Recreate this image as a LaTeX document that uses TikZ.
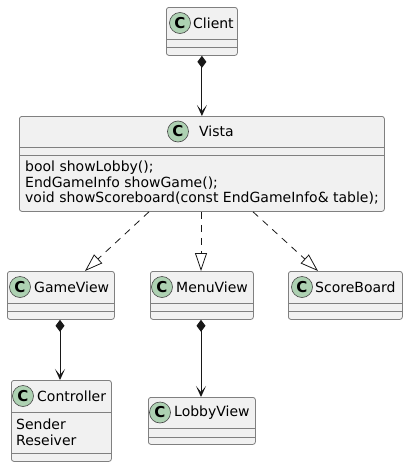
\documentclass[tikz,border=0pt]{standalone}
\usepackage{fontspec}
\setmainfont{DejaVu Sans}
\usetikzlibrary{arrows.meta,calc}
\definecolor{boxfill}{HTML}{F1F1F1}
\definecolor{bord}{HTML}{181818}
\definecolor{boxline}{HTML}{808080}
\definecolor{iconfill}{HTML}{ADD1B2}
\tikzset{
  cbox/.style={draw=boxline, fill=boxfill, line width=0.8pt, rounded corners=2.5pt, inner sep=0pt, anchor=north west},
  icon/.style={circle, draw=bord!80!white, fill=iconfill, line width=0.6pt, minimum size=21pt, inner sep=0pt,
    font=\fontsize{15}{15}\selectfont\bfseries},
  hdr/.style={inner sep=0pt, anchor=west, font=\fontsize{14}{14}\selectfont},
  mem/.style={inner sep=0pt, anchor=west, font=\fontsize{14}{14}\selectfont},
  sepl/.style={draw=boxline, line width=0.8pt},
  comp/.style={draw=bord, line width=1pt, {Diamond[length=12pt,width=9pt]}-{Stealth[length=11pt,width=10pt,inset=6pt]}},
  impl/.style={draw=bord, line width=0.8pt, dash pattern=on 7pt off 6pt, -{Triangle[open,length=18pt,width=12pt,fill=white]}}
}
% name, x1, y1, x2, y2, header bottom, icon x, text x, label
\newcommand\umlcls[9]{%
  \node[cbox, minimum width={(#4-#2)*1pt}, minimum height={(#5-#3)*1pt}] (#1) at (#2,#3) {};
  \node[icon] (#1-i) at (#7,{(#3+#6)/2}) {C};
  \node[hdr] (#1-t) at (#8,{(#3+#6)/2}) {#9};
  \draw[sepl] (#2,#6) -- (#4,#6);
}
\begin{document}
\begin{tikzpicture}[x=1pt,y=-1pt]
\useasboundingbox (0,0) rectangle (407,466);
% classes
\umlcls{client}{166}{7}{237}{55}{39}{180}{193}{Client}
\draw[sepl] (166,47) -- (237,47);
\umlcls{vista}{19}{116}{384}{211}{147}{178}{199}{Vista}
\draw[sepl] (19,155) -- (384,155);
\node[mem] (m1) at (25,168) {bool showLobby();};
\node[mem] (m2) at (25,183) {EndGameInfo showGame();};
\node[mem] (m3) at (25,198) {void showScoreboard(const EndGameInfo\& table);};
\umlcls{gameview}{7}{271}{114}{319}{303}{20}{34}{GameView}
\draw[sepl] (7,311) -- (114,311);
\umlcls{menuview}{150}{271}{253}{319}{303}{162}{176}{MenuView}
\draw[sepl] (150,311) -- (253,311);
\umlcls{scoreboard}{288}{271}{402}{319}{303}{302}{315}{ScoreBoard}
\draw[sepl] (288,311) -- (402,311);
\umlcls{controller}{11}{380}{111}{461}{412}{23}{37}{Controller}
\node[mem] (c1) at (16,424) {Sender};
\node[mem] (c2) at (16,440) {Reseiver};
\draw[sepl] (11,453) -- (111,453);
\umlcls{lobbyview}{148}{397}{255}{444}{428}{160}{174}{LobbyView}
\draw[sepl] (148,437) -- (255,437);
% composition
\draw[comp] (client.south) -- (client.south |- vista.north);
\draw[comp] ($(gameview.south west)+(53,0)$) coordinate (g0) -- (g0 |- controller.north);
\draw[comp] ($(menuview.south west)+(51,0)$) coordinate (mv0) -- (mv0 |- lobbyview.north);
% realization
\coordinate (v1) at ($(vista.south west)+(130,0)$);
\coordinate (v2) at ($(vista.south west)+(182,0)$);
\coordinate (v3) at ($(vista.south west)+(234,0)$);
\draw[impl] (v1) -- ($(gameview.north west)+(78,0)$);
\draw[impl] (v2) -- (v2 |- menuview.north);
\draw[impl] (v3) -- ($(scoreboard.north west)+(30,0)$);
\end{tikzpicture}
\end{document}
